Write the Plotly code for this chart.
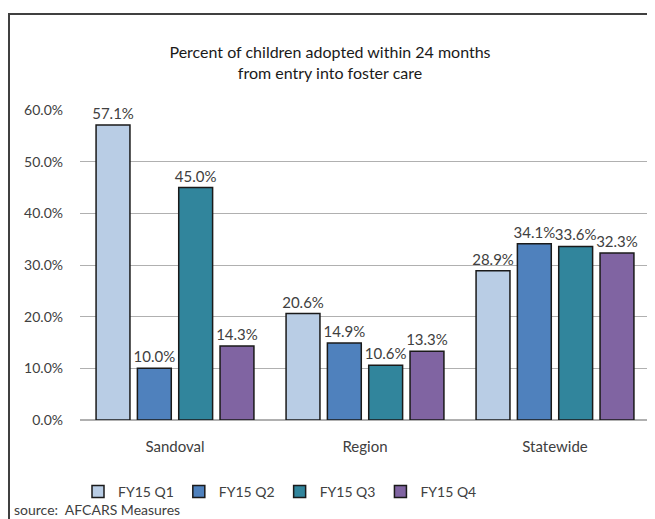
import plotly.graph_objects as go

# Data
categories = ["Sandoval", "Region", "Statewide"]
quarters = ["FY15 Q1", "FY15 Q2", "FY15 Q3", "FY15 Q4"]
values = {
    "FY15 Q1": [57.1, 20.6, 28.9],
    "FY15 Q2": [10.0, 14.9, 34.1],
    "FY15 Q3": [45.0, 10.6, 33.6],
    "FY15 Q4": [14.3, 13.3, 32.3],
}
y_ticks = [0, 10, 20, 30, 40, 50, 60]

colors = ["#B9CDE5", "#4F81BD", "#31859C", "#8064A2"]
font_family = "Lato, Open Sans, sans-serif"

fig = go.Figure()

for q, c in zip(quarters, colors):
    fig.add_trace(go.Bar(
        x=categories,
        y=values[q],
        name=q,
        marker=dict(color=c, line=dict(color="#1a1a1a", width=1.5)),
        text=[f"{v:.1f}%" for v in values[q]],
        textposition="outside",
        constraintext="none",
        cliponaxis=False,
        textfont=dict(size=15, color="#404040", family=font_family),
    ))

# page has an 8px body margin, so work in shifted window pixels
OFF = 8
W, H = 655 - OFF, 519 - OFF
L, R, T, B = 80 - OFF, 5, 110 - OFF, 99
pw, ph = W - L - R, H - T - B

def px(x):
    return (x - OFF - L) / pw

def py(y):
    return (H - B - (y - OFF)) / ph

fig.update_layout(
    width=W, height=H,
    margin=dict(l=L, r=R, t=T, b=B),
    paper_bgcolor="white",
    plot_bgcolor="white",
    barmode="group",
    bargap=0.13,
    bargroupgap=0.18,
    font=dict(family=font_family, color="#404040", size=15),
    title=dict(
        text="Percent of children adopted within 24 months<br>from entry into foster care",
        x=(330 - OFF) / W, xanchor="center",
        y=1 - (58 - OFF) / H, yanchor="middle",
        font=dict(size=16, color="#1a1a1a", family=font_family),
    ),
    xaxis=dict(
        showline=False,
        tickfont=dict(size=15, color="#404040"),
        ticks="",
        ticklabelstandoff=16,
    ),
    yaxis=dict(
        range=[0, 60],
        tickvals=y_ticks,
        ticktext=[f"{v:.1f}%" for v in y_ticks],
        showgrid=True,
        gridcolor="#b0b0b0",
        gridwidth=1,
        zeroline=True,
        zerolinecolor="#b0b0b0",
        ticks="",
        ticklabelstandoff=16,
        tickfont=dict(size=14, color="#404040"),
    ),
    legend=dict(
        orientation="h",
        x=px(280), xanchor="center",
        y=py(492), yanchor="middle",
        font=dict(size=14, color="#404040"),
        itemwidth=30,
        traceorder="normal",
        tracegroupgap=0,
    ),
    shapes=[dict(
        type="rect", xref="paper", yref="paper",
        x0=px(9), x1=px(665), y0=py(540), y1=py(14),
        line=dict(color="#404040", width=2),
        fillcolor="rgba(0,0,0,0)",
        layer="below",
    )],
    annotations=[dict(
        text="source:  AFCARS Measures",
        xref="paper", yref="paper",
        x=px(12), y=py(509),
        xanchor="left", yanchor="middle",
        showarrow=False,
        font=dict(size=14, color="#404040"),
    )],
)

fig.write_html("out.html")
